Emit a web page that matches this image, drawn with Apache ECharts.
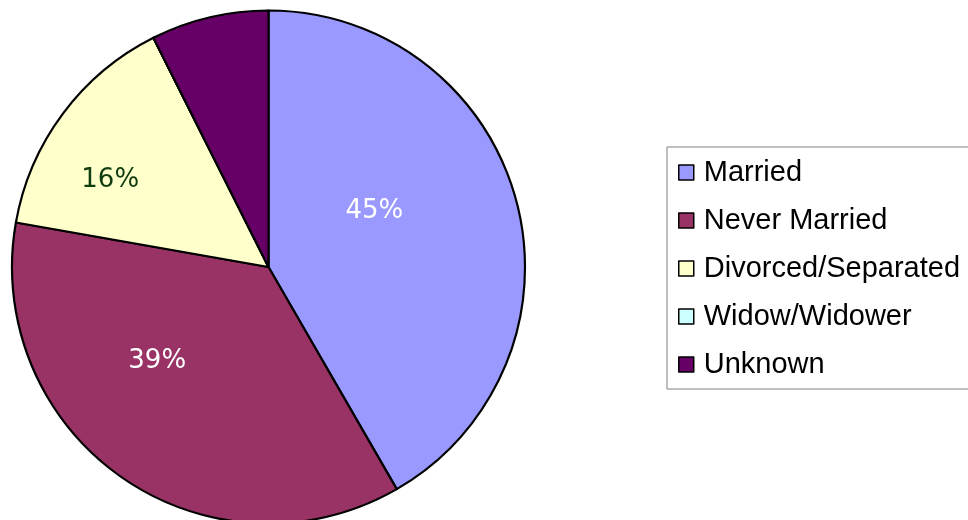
<!DOCTYPE html>
<html>
<head>
<meta charset="utf-8">
<style>
  html, body { margin: 0; padding: 0; background: #ffffff; }
  #chart { width: 968px; height: 520px; }
</style>
<script src="https://cdn.jsdelivr.net/npm/echarts@6/dist/echarts.min.js"></script>
</head>
<body>
<div id="chart"></div>
<script>
// Marital status breakdown (values in percent; Unknown shown as a slice without label)
const categories = ['Married', 'Never Married', 'Divorced/Separated', 'Widow/Widower', 'Unknown'];
const values = [45, 39, 16, 0, 8];
const labelled = [true, true, true, false, false];

const colors = ['#9999ff', '#993366', '#ffffcc', '#ccffff', '#660066'];
const labelColors = ['#ffffff', '#ffffff', '#0f3d0f', '#000000', '#ffffff'];
const labelOffsets = [[-21, -22], [-36, -13], [-53, -8], [0, 0], [0, 0]];

const chart = echarts.init(document.getElementById('chart'), null, { renderer: 'canvas' });

const data = categories.map((name, i) => ({
  name: name,
  value: values[i],
  itemStyle: { color: colors[i] },
  label: {
    show: labelled[i],
    color: labelColors[i],
    offset: labelOffsets[i]
  }
}));

chart.setOption({
  animation: false,
  backgroundColor: '#ffffff',
  legend: {
    orient: 'vertical',
    left: 667,
    top: 147,
    padding: [11, 60, 10, 11],
    itemGap: 19,
    itemWidth: 15,
    itemHeight: 15,
    icon: 'rect',
    selectedMode: false,
    borderColor: '#808080',
    borderWidth: 1,
    backgroundColor: '#ffffff',
    itemStyle: { borderColor: '#000000', borderWidth: 1.5 },
    textStyle: {
      fontFamily: 'Liberation Sans, Arial, sans-serif',
      fontSize: 29,
      color: '#000000',
      padding: [0, 0, 0, 5]
    },
    data: categories
  },
  series: [{
    type: 'pie',
    center: [268.5, 267],
    radius: [0, 256.5],
    startAngle: 90,
    clockwise: true,
    avoidLabelOverlap: false,
    stillShowZeroSum: true,
    itemStyle: { borderColor: '#000000', borderWidth: 2.2 },
    label: {
      show: true,
      position: 'inside',
      fontFamily: 'DejaVu Sans, Verdana, sans-serif',
      fontSize: 26,
      formatter: p => p.value + '%'
    },
    labelLine: { show: false },
    emphasis: { disabled: true },
    data: data
  }]
});
</script>
</body>
</html>
